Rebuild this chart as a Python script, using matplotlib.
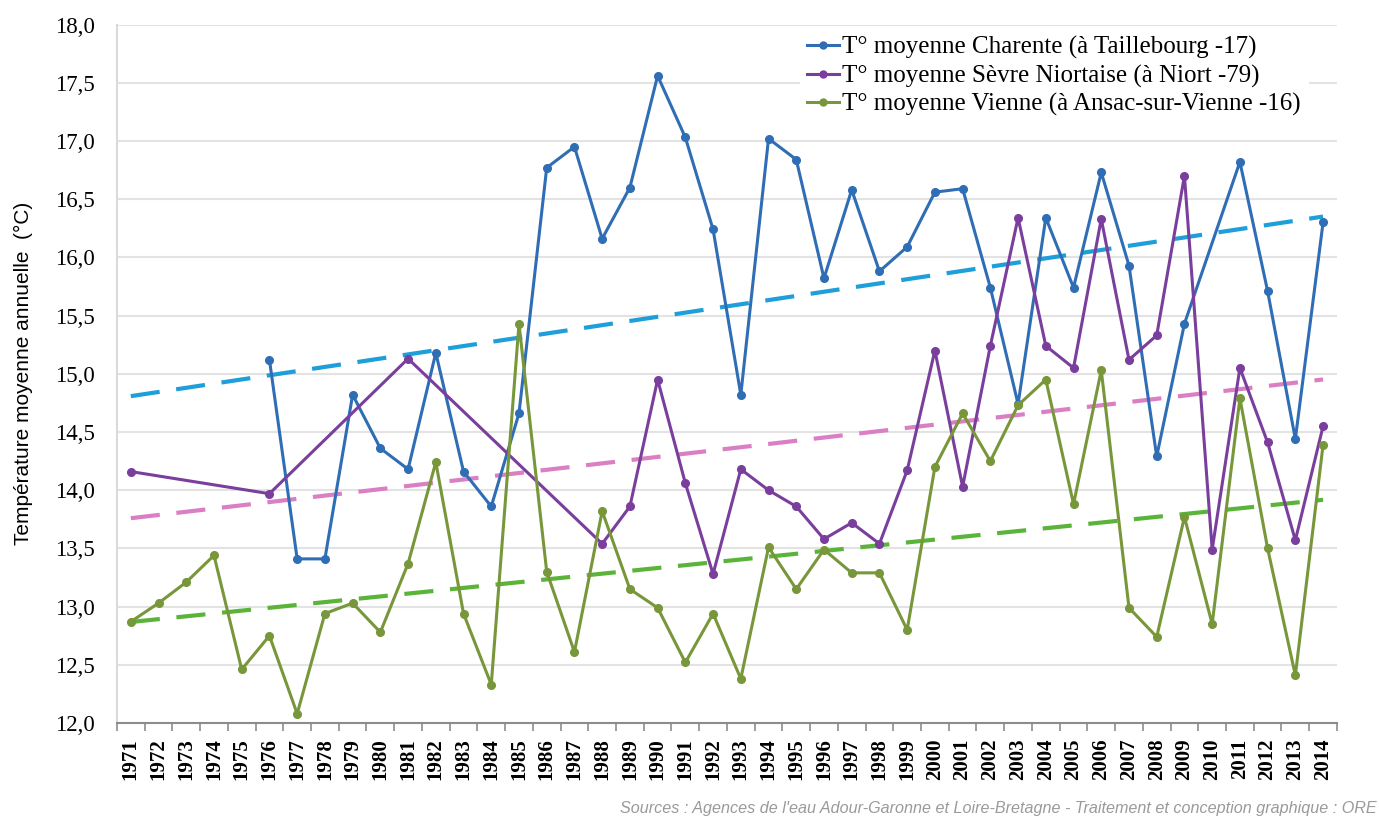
import numpy as np
import matplotlib.pyplot as plt
from matplotlib.ticker import FixedLocator, FuncFormatter

# Années et températures moyennes annuelles (°C), NaN = pas de mesure
years = np.arange(1971, 2015)

charente = [np.nan, np.nan, np.nan, np.nan, np.nan, 15.12, 13.41, 13.41, 14.82, 14.36,
            14.18, 15.18, 14.16, 13.86, 14.66, 16.77, 16.95, 16.16, 16.60, 17.56,
            17.03, 16.24, 14.82, 17.02, 16.84, 15.82, 16.58, 15.88, 16.09, 16.56,
            16.59, 15.74, 14.74, 16.34, 15.74, 16.73, 15.93, 14.29, 15.43, np.nan,
            16.82, 15.71, 14.44, 16.30]

sevre = [14.16, np.nan, np.nan, np.nan, np.nan, 13.97, np.nan, np.nan, np.nan, np.nan,
         15.13, np.nan, np.nan, np.nan, np.nan, np.nan, np.nan, 13.54, 13.86, 14.95,
         14.06, 13.28, 14.18, 14.00, 13.86, 13.58, 13.72, 13.54, 14.17, 15.20,
         14.03, 15.24, 16.34, 15.24, 15.05, 16.33, 15.12, 15.33, 16.70, 13.49,
         15.05, 14.41, 13.57, 14.55]

vienne = [12.87, 13.03, 13.21, 13.44, 12.46, 12.75, 12.08, 12.94, 13.03, 12.78,
          13.37, 14.24, 12.94, 12.33, 15.43, 13.30, 12.61, 13.82, 13.15, 12.99,
          12.52, 12.94, 12.38, 13.51, 13.15, 13.49, 13.29, 13.29, 12.80, 14.20,
          14.66, 14.25, 14.73, 14.95, 13.88, 15.03, 12.99, 12.74, 13.77, 12.85,
          14.79, 13.50, 12.41, 14.39]

labels = ["T° moyenne Charente (à Taillebourg -17)",
          "T° moyenne Sèvre Niortaise (à Niort -79)",
          "T° moyenne Vienne (à Ansac-sur-Vienne -16)"]
line_colors = ["#2F6DB5", "#7A3E9D", "#78963A"]
trend_colors = ["#1E9FDA", "#DA7FC4", "#5BB43A"]

serif = "Liberation Serif"

fig = plt.figure(figsize=(13.79, 8.18), dpi=100)
ax = fig.add_axes([0.0848, 0.1161, 0.8847, 0.8539])

handles = []
for vals, col, tcol, lab in zip([charente, sevre, vienne], line_colors, trend_colors, labels):
    v = np.array(vals, dtype=float)
    ok = ~np.isnan(v)
    h, = ax.plot(years[ok], v[ok], '-o', color=col, lw=2.2, ms=5.5, label=lab, zorder=3)
    handles.append(h)
    # tendance linéaire sur toute la période
    a, b = np.polyfit(years[ok], v[ok], 1)
    ax.plot(years, a * years + b, color=tcol, lw=3, dashes=(7, 4), zorder=2)

ax.set_xlim(1970.5, 2014.5)
ax.set_ylim(12, 18)
ax.set_yticks(np.arange(12, 18.01, 0.5))
ax.yaxis.set_major_formatter(FuncFormatter(lambda y, p: f"{y:.1f}".replace('.', ',')))
ax.set_xticks(years)
ax.set_xticklabels([str(y) for y in years], rotation=90, fontfamily=serif,
                   fontweight='bold', fontsize=15)
ax.xaxis.set_minor_locator(FixedLocator(np.arange(1970.5, 2015, 1)))
ax.tick_params(axis='x', which='major', length=0, pad=11)
ax.tick_params(axis='x', which='minor', length=6, color='#8C8C8C', width=1.2)
ax.tick_params(axis='y', length=0, pad=16, labelsize=16.5)
for t in ax.get_yticklabels():
    t.set_fontfamily(serif)

ax.grid(axis='y', color='#E3E3E3', lw=1.5, zorder=0)
for s in ['top', 'right']:
    ax.spines[s].set_visible(False)
ax.spines['left'].set_color('#DADADA')
ax.spines['left'].set_linewidth(1.5)
ax.spines['bottom'].set_color('#8C8C8C')
ax.spines['bottom'].set_linewidth(1.5)

ax.set_ylabel("Température moyenne annuelle  (°C)", fontfamily="Liberation Sans",
              fontsize=15, labelpad=16)

leg = ax.legend(handles=handles, loc='upper right', bbox_to_anchor=(0.987, 1.012),
                frameon=True, framealpha=1, edgecolor='none', fancybox=False,
                prop={'family': serif, 'size': 18}, handlelength=1.25,
                handletextpad=0.15, labelspacing=0.22, borderpad=0.3)
for lh in leg.get_lines():
    lh.set_markersize(5)

fig.text(0.998, 0.003, "Sources : Agences de l'eau Adour-Garonne et Loire-Bretagne - "
         "Traitement et conception graphique : ORE", ha='right', va='bottom',
         fontsize=11.6, style='italic', color='#9A9A9A', fontfamily="Liberation Sans")

plt.savefig('out.png', dpi=100)
